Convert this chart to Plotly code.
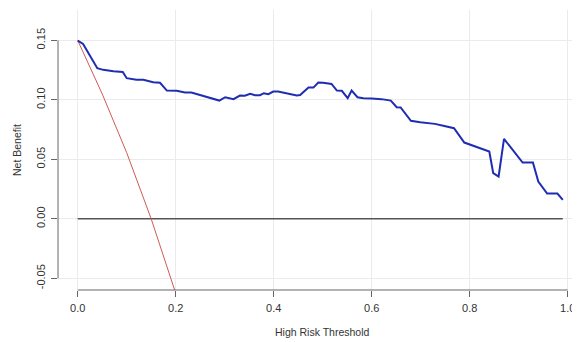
import plotly.graph_objects as go

# Decision curve data
model_threshold = [0.000, 0.011, 0.040, 0.052, 0.073, 0.092, 0.100, 0.120, 0.134, 0.154,
                   0.168, 0.182, 0.202, 0.219, 0.232, 0.250, 0.270, 0.289, 0.301, 0.318,
                   0.331, 0.341, 0.352, 0.362, 0.372, 0.380, 0.389, 0.399, 0.409, 0.427,
                   0.447, 0.454, 0.471, 0.481, 0.491, 0.501, 0.518, 0.529, 0.539, 0.551,
                   0.559, 0.571, 0.583, 0.600, 0.620, 0.639, 0.651, 0.659, 0.680, 0.699,
                   0.729, 0.746, 0.768, 0.789, 0.811, 0.840, 0.848, 0.859, 0.870, 0.889,
                   0.908, 0.929, 0.940, 0.958, 0.979, 0.990]
model_net_benefit = [0.1498, 0.1470, 0.1266, 0.1252, 0.1241, 0.1235, 0.1182, 0.1168, 0.1168, 0.1148,
                     0.1143, 0.1078, 0.1076, 0.1062, 0.1062, 0.1042, 0.1019, 0.0994, 0.1022, 0.1006,
                     0.1036, 0.1034, 0.1050, 0.1039, 0.1039, 0.1056, 0.1048, 0.1070, 0.1070, 0.1056,
                     0.1036, 0.1040, 0.1103, 0.1103, 0.1146, 0.1143, 0.1134, 0.1078, 0.1076, 0.1014,
                     0.1078, 0.1022, 0.1014, 0.1011, 0.1006, 0.0994, 0.0938, 0.0936, 0.0824, 0.0812,
                     0.0798, 0.0782, 0.0762, 0.0641, 0.0608, 0.0566, 0.0384, 0.0356, 0.0672, 0.0574,
                     0.0473, 0.0473, 0.0314, 0.0213, 0.0213, 0.0160]

all_threshold = [0.00, 0.05, 0.10, 0.15, 0.20, 0.25]
all_net_benefit = [0.150, 0.105, 0.0556, 0.000, -0.0625, -0.133]

none_threshold = [0.00, 0.99]
none_net_benefit = [0.0, 0.0]

x_ticks = [0.0, 0.2, 0.4, 0.6, 0.8, 1.0]
x_tick_labels = ["0.0", "0.2", "0.4", "0.6", "0.8", "1.0"]
y_ticks = [-0.05, 0.00, 0.05, 0.10, 0.15]
y_tick_labels = ["-0.05", "0.00", "0.05", "0.10", "0.15"]

FONT = "Liberation Sans, Arial, sans-serif"
TXT = "#333333"
AX = "#666666"
GRID = "#ebebeb"

fig = go.Figure()
fig.add_trace(go.Scatter(x=none_threshold, y=none_net_benefit, mode="lines",
                         line=dict(color="#555555", width=1.5), showlegend=False, hoverinfo="skip"))
fig.add_trace(go.Scatter(x=all_threshold, y=all_net_benefit, mode="lines",
                         line=dict(color="#cd5b55", width=1), showlegend=False))
fig.add_trace(go.Scatter(x=model_threshold, y=model_net_benefit, mode="lines",
                         line=dict(color="#1f2db3", width=2), showlegend=False))

# R-style axis lines spanning only the tick range
fig.add_shape(type="line", xref="x", yref="paper", x0=x_ticks[0], x1=x_ticks[-1], y0=0, y1=0,
              line=dict(color=AX, width=1))
fig.add_shape(type="line", xref="paper", yref="y", x0=0, x1=0, y0=y_ticks[0], y1=y_ticks[-1],
              line=dict(color=AX, width=1))

fig.add_annotation(text="High Risk Threshold", xref="x", yref="paper", x=0.5, y=0,
                   yshift=-42, yanchor="middle", showarrow=False,
                   font=dict(family=FONT, size=10.5, color=TXT))
fig.add_annotation(text="Net Benefit", xref="paper", yref="paper", x=0, y=0.5,
                   xshift=-41, xanchor="center", textangle=-90, showarrow=False,
                   font=dict(family=FONT, size=10.5, color=TXT))

# The page body adds an 8px offset, so the figure is sized 8px smaller and margins compensate.
fig.update_layout(
    width=572, height=334,
    margin=dict(l=50, r=0, t=2, b=52),
    paper_bgcolor="white", plot_bgcolor="white",
    font=dict(family=FONT, size=11, color=TXT),
    xaxis=dict(range=[-0.0402, 1.0251], tickvals=x_ticks, ticktext=x_tick_labels,
               showgrid=True, gridcolor=GRID, gridwidth=1, zeroline=False, showline=False,
               ticks="outside", ticklen=6, tickcolor=AX, tickwidth=1, ticklabelstandoff=2,
               tickfont=dict(family=FONT, size=11, color=TXT)),
    yaxis=dict(range=[-0.0598, 0.1755], tickvals=y_ticks, ticktext=y_tick_labels,
               showgrid=True, gridcolor=GRID, gridwidth=1, zeroline=False, showline=False,
               ticks="outside", ticklen=6, tickcolor=AX, tickwidth=1, tickangle=-90,
               ticklabelstandoff=2,
               tickfont=dict(family=FONT, size=11, color=TXT)),
)

fig.write_html("out.html")
